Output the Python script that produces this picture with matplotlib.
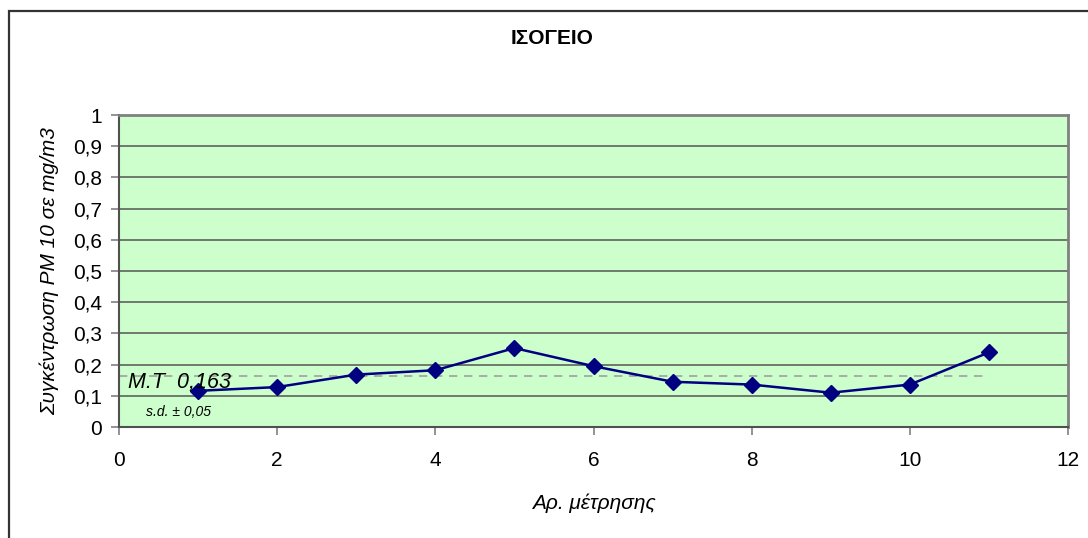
import matplotlib
matplotlib.use("Agg")
import matplotlib.pyplot as plt
from matplotlib.patches import Rectangle
from matplotlib.ticker import FuncFormatter

plt.rcParams['font.family'] = ['Liberation Sans', 'DejaVu Sans']

# measurements (PM10, mg/m3)
meas_no = [1, 2, 3, 4, 5, 6, 7, 8, 9, 10, 11]
pm10 = [0.116, 0.128, 0.168, 0.182, 0.253, 0.195, 0.145, 0.136, 0.110, 0.136, 0.239]
mean_x = [0, 11]
mean_val = 0.163
sd_val = 0.05

x_ticks = [0, 2, 4, 6, 8, 10, 12]
y_ticks = [0, 0.1, 0.2, 0.3, 0.4, 0.5, 0.6, 0.7, 0.8, 0.9, 1]

fig = plt.figure(figsize=(10.88, 5.38), dpi=100)
ax = fig.add_axes([0.1094, 0.2063, 0.8722, 0.5799])
ax.set_facecolor('#CCFFCC')

# outer chart border
fig.patches.append(Rectangle((8.5 / 1088, -0.1), 1.2, 1 - 11 / 538 + 0.1,
                             transform=fig.transFigure, fill=False,
                             edgecolor='#333333', lw=1.6, zorder=0))

for y in y_ticks[1:-1]:
    ax.axhline(y, color='#555555', lw=1.1, zorder=1)

ax.plot(mean_x, [mean_val, mean_val], color='#A0A0A0', lw=1.2,
        dashes=(5, 4), zorder=2)
ax.plot(meas_no, pm10, color='#000080', lw=1.8, marker='D',
        markersize=8.5, zorder=3)

ax.text(0.11, 0.125, 'M.T  ' + f'{mean_val:.3f}'.replace('.', ','),
        fontsize=15.5, style='italic', va='baseline', zorder=4)
ax.text(0.34, 0.034, 's.d. ± ' + f'{sd_val:.2f}'.replace('.', ','),
        fontsize=10, style='italic', va='baseline', zorder=4)

ax.set_xlim(0, 12)
ax.set_ylim(0, 1)
ax.set_xticks(x_ticks)
ax.set_yticks(y_ticks)
ax.yaxis.set_major_formatter(FuncFormatter(lambda v, p: f'{v:g}'.replace('.', ',')))
ax.tick_params(axis='both', labelsize=15, color='#808080', length=6, width=1.2)
ax.tick_params(axis='x', pad=11)
ax.tick_params(axis='y', pad=6)

for side in ['top', 'right']:
    ax.spines[side].set_color('#808080')
    ax.spines[side].set_linewidth(2)
for side in ['left', 'bottom']:
    ax.spines[side].set_color('#505050')
    ax.spines[side].set_linewidth(1.5)

ax.set_xlabel('Αρ. μέτρησης', fontsize=15, style='italic', labelpad=17)
ax.set_ylabel('Συγκέντρωση PM 10 σε mg/m3', fontsize=15, style='italic', labelpad=10)
fig.text(552 / 1088, 1 - 38 / 538, 'ΙΣΟΓΕΙΟ', fontsize=15, fontweight='bold',
         ha='center', va='center')

fig.savefig('out.png', dpi=100)
